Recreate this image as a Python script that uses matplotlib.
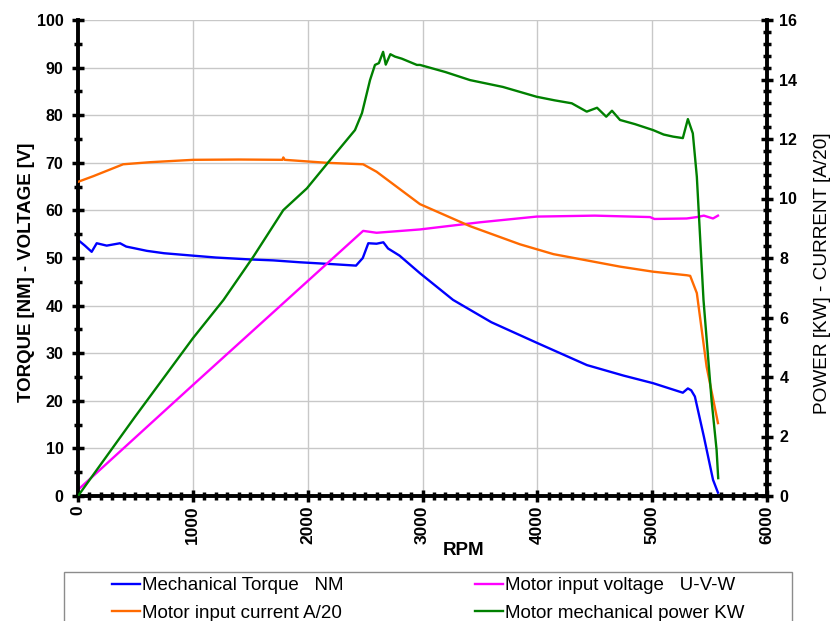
import numpy as np
import matplotlib.pyplot as plt
from matplotlib.ticker import MultipleLocator
from matplotlib.patches import Rectangle

plt.rcParams['font.family'] = ['Liberation Sans', 'DejaVu Sans']

# ------------------------------------------------------------
# values
# ------------------------------------------------------------
# Mechanical torque (NM), left axis
torque_rpm = [0, 60, 119, 163, 250, 366, 420, 481, 600, 750, 948, 1200, 1497, 1700,
              1933, 2222, 2421, 2480, 2528, 2600, 2659, 2700, 2800, 2978, 3266, 3600,
              3994, 4432, 4750, 5008, 5267, 5311, 5340, 5372, 5450, 5530, 5573]
torque_nm = [53.8, 52.6, 51.3, 53.1, 52.6, 53.1, 52.4, 52.1, 51.5, 51.0, 50.6, 50.1,
             49.7, 49.5, 49.1, 48.7, 48.4, 50.0, 53.1, 53.0, 53.3, 52.0, 50.5, 46.8,
             41.2, 36.5, 32.2, 27.5, 25.3, 23.7, 21.7, 22.6, 22.2, 20.9, 12.5, 3.4, 0.7]

# Motor input voltage U-V-W (V), left axis
volt_rpm = [0, 1000, 2483, 2600, 2978, 3500, 3994, 4500, 4981, 5020, 5300, 5390,
            5450, 5530, 5573]
volt_v = [1.3, 23.3, 55.7, 55.3, 56.0, 57.5, 58.7, 58.9, 58.6, 58.2, 58.3, 58.6,
          58.9, 58.3, 58.9]

# Motor input current (A/20), right axis
curr_rpm = [0, 133, 393, 627, 1004, 1400, 1780, 1788, 1800, 2166, 2483, 2600, 2978,
            3414, 3849, 4140, 4720, 5008, 5302, 5331, 5389, 5474, 5573]
curr_a20 = [10.56, 10.75, 11.15, 11.22, 11.30, 11.31, 11.30, 11.38, 11.30, 11.20,
            11.15, 10.90, 9.81, 9.07, 8.46, 8.13, 7.71, 7.54, 7.42, 7.40, 6.82, 4.35,
            2.45]

# Motor mechanical power (KW), right axis
pow_rpm = [0, 496, 1000, 1267, 1528, 1788, 1993, 2195, 2412, 2473, 2543, 2586, 2620,
           2657, 2680, 2720, 2760, 2820, 2951, 2978, 3200, 3414, 3700, 3994, 4150,
           4300, 4430, 4520, 4600, 4650, 4720, 4850, 5008, 5100, 5182, 5267, 5311,
           5354, 5389, 5447, 5517, 5561, 5575]
pow_kw = [0.0, 2.66, 5.30, 6.59, 8.05, 9.61, 10.34, 11.29, 12.30, 12.87, 13.98, 14.49,
          14.55, 14.93, 14.50, 14.85, 14.77, 14.70, 14.49, 14.49, 14.25, 13.98, 13.75,
          13.42, 13.30, 13.20, 12.92, 13.05, 12.75, 12.95, 12.64, 12.50, 12.30, 12.15,
          12.08, 12.03, 12.67, 12.19, 10.73, 6.59, 3.23, 1.55, 0.60]

# ------------------------------------------------------------
W, H = 832, 621
fig = plt.figure(figsize=(W / 100, H / 100), dpi=100)
ax = fig.add_axes([78 / W, 1 - 496 / H, 689 / W, 476 / H])
ax2 = ax.twinx()

l1, = ax.plot(torque_rpm, torque_nm, color='#0000FF', lw=1.7, label='Mechanical Torque   NM')
l3, = ax.plot(volt_rpm, volt_v, color='#FF00FF', lw=1.7, label='Motor input voltage   U-V-W')
l2, = ax2.plot(curr_rpm, curr_a20, color='#FF6A00', lw=1.7, label='Motor input current A/20')
l4, = ax2.plot(pow_rpm, pow_kw, color='#008000', lw=1.7, label='Motor mechanical power KW')

ax.set_xlim(0, 6000)
ax.set_ylim(0, 100)
ax2.set_ylim(0, 16)

ax.xaxis.set_major_locator(MultipleLocator(1000))
ax.xaxis.set_minor_locator(MultipleLocator(100))
ax.yaxis.set_major_locator(MultipleLocator(10))
ax.yaxis.set_minor_locator(MultipleLocator(5))
ax2.yaxis.set_major_locator(MultipleLocator(2))
ax2.yaxis.set_minor_locator(MultipleLocator(0.4))

ax.grid(True, which='major', color='#C8C8C8', lw=1.0)
ax.set_axisbelow(True)

for a in (ax, ax2):
    for s in a.spines.values():
        s.set_visible(False)
for side in ('left', 'bottom'):
    ax.spines[side].set_visible(True)
    ax.spines[side].set_linewidth(2.8)
ax2.spines['right'].set_visible(True)
ax2.spines['right'].set_linewidth(2.8)

ax.tick_params(axis='both', which='major', direction='inout', length=8, width=2.5)
ax.tick_params(axis='both', which='minor', direction='inout', length=6, width=2.5)
ax.tick_params(axis='x', labelsize=12.5, pad=3)
ax.tick_params(axis='y', labelsize=11.5, pad=6.5)
ax2.tick_params(axis='y', which='major', direction='inout', length=8, width=2.5,
                labelsize=11.5, pad=5)
ax2.tick_params(axis='y', which='minor', direction='inout', length=6, width=2.5)

for lab in ax.get_xticklabels():
    lab.set_rotation(90)
for lab in ax.get_xticklabels() + ax.get_yticklabels() + ax2.get_yticklabels():
    lab.set_fontweight('bold')

ax.set_ylabel('TORQUE [NM] - VOLTAGE [V]', fontsize=13.4, fontweight='bold')
ax.yaxis.set_label_coords(-0.062, 0.469)
ax2.set_ylabel('POWER [KW] - CURRENT [A/20]', fontsize=13.7)
ax2.yaxis.set_label_coords(1.068, 0.469)
ax.set_xlabel('RPM', fontsize=13.5, fontweight='bold')
ax.xaxis.set_label_coords(0.559, -0.096)

# legend: frameless entries centred in a wide grey box running off the bottom
box = Rectangle((64 / W, -0.05), 728 / W, 0.05 + 1 - 572 / H, transform=fig.transFigure,
                facecolor='white', edgecolor='#8C8C8C', lw=1.0)
fig.add_artist(box)
leg = fig.legend([l1, l2, l3, l4], [h.get_label() for h in (l1, l2, l3, l4)],
                 ncol=2, loc='upper center', bbox_to_anchor=(428 / W, 1 - 568 / H),
                 fontsize=13.5, frameon=False, handlelength=1.5, handletextpad=0.1,
                 borderpad=0.0, labelspacing=0.55, columnspacing=7.0)

fig.savefig('out.png', dpi=100)
